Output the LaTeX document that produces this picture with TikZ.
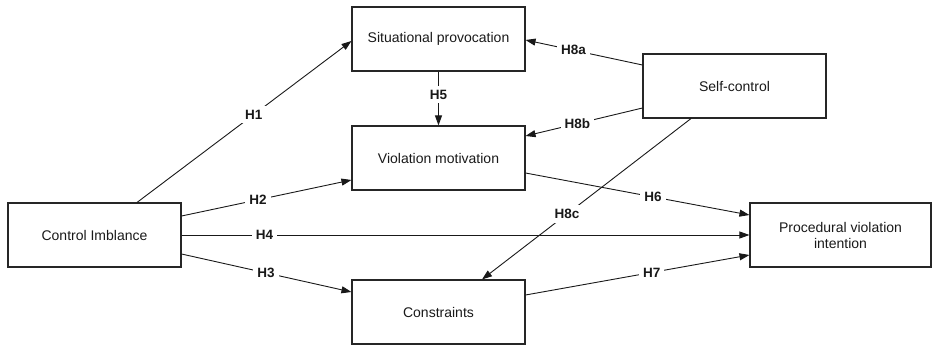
\documentclass[tikz,border=0pt]{standalone}
\usepackage{fontspec}
\setmainfont{Liberation Sans}
\usetikzlibrary{arrows.meta}
\begin{document}
\begin{tikzpicture}[x=1pt,y=-1pt,
  box/.style={draw=black!85,line width=1.1pt,minimum width=173pt,minimum height=64pt,
    inner sep=0pt,align=center,font=\fontsize{14}{16}\selectfont,text=black!90},
  link/.style={draw=black!90,line width=0.9pt,-{Triangle[length=10pt,width=7pt]}},
  hyp/.style={fill=white,inner sep=4pt,font=\fontsize{13.5}{15}\selectfont\bfseries,text=black!90}]
\useasboundingbox (0,0) rectangle (932,345);
% variables
\node[box] (ci)  at (94.5,235)  {Control Imblance};
\node[box] (sp)  at (438.5,39)  {Situational provocation};
\node[box] (vm)  at (438.5,158) {Violation motivation};
\node[box] (cs)  at (438.5,312) {Constraints};
\node[box,minimum width=183pt] (sc) at (734.5,86) {Self-control};
\node[box,minimum width=181pt] (pvi) at (840.5,235) {Procedural violation\\intention};
% hypothesised paths
\draw[link] ([xshift=42.5pt]ci.north) -- node[hyp,pos=0.544] {H1} ([yshift=-2pt]sp.west);
\draw[link] ([yshift=19pt]ci.east) -- node[hyp,pos=0.45] {H2} ([yshift=-22pt]vm.west);
\draw[link] (ci.east) -- node[hyp,pos=0.146] {H4} (pvi.west);
\draw[link] ([yshift=-19pt]ci.east) -- node[hyp,pos=0.497] {H3} ([yshift=20pt]cs.west);
\draw[link] (sp.south) -- node[hyp,pos=0.43] {H5} (vm.north);
\draw[link] ([yshift=21pt]sc.west) -- node[hyp,pos=0.59] {H8a} ([yshift=-1pt]sp.east);
\draw[link] ([yshift=-22pt]sc.west) -- node[hyp,pos=0.556] {H8b} ([yshift=22pt]vm.east);
\draw[link] ([xshift=-43.5pt]sc.south) -- node[hyp,pos=0.593] {H8c} ([xshift=43.5pt]cs.north);
\draw[link] ([yshift=-15pt]vm.east) -- node[hyp,pos=0.569] {H6} ([yshift=20pt]pvi.west);
\draw[link] ([yshift=17pt]cs.east) -- node[hyp,pos=0.564] {H7} ([yshift=-20pt]pvi.west);
\end{tikzpicture}
\end{document}
